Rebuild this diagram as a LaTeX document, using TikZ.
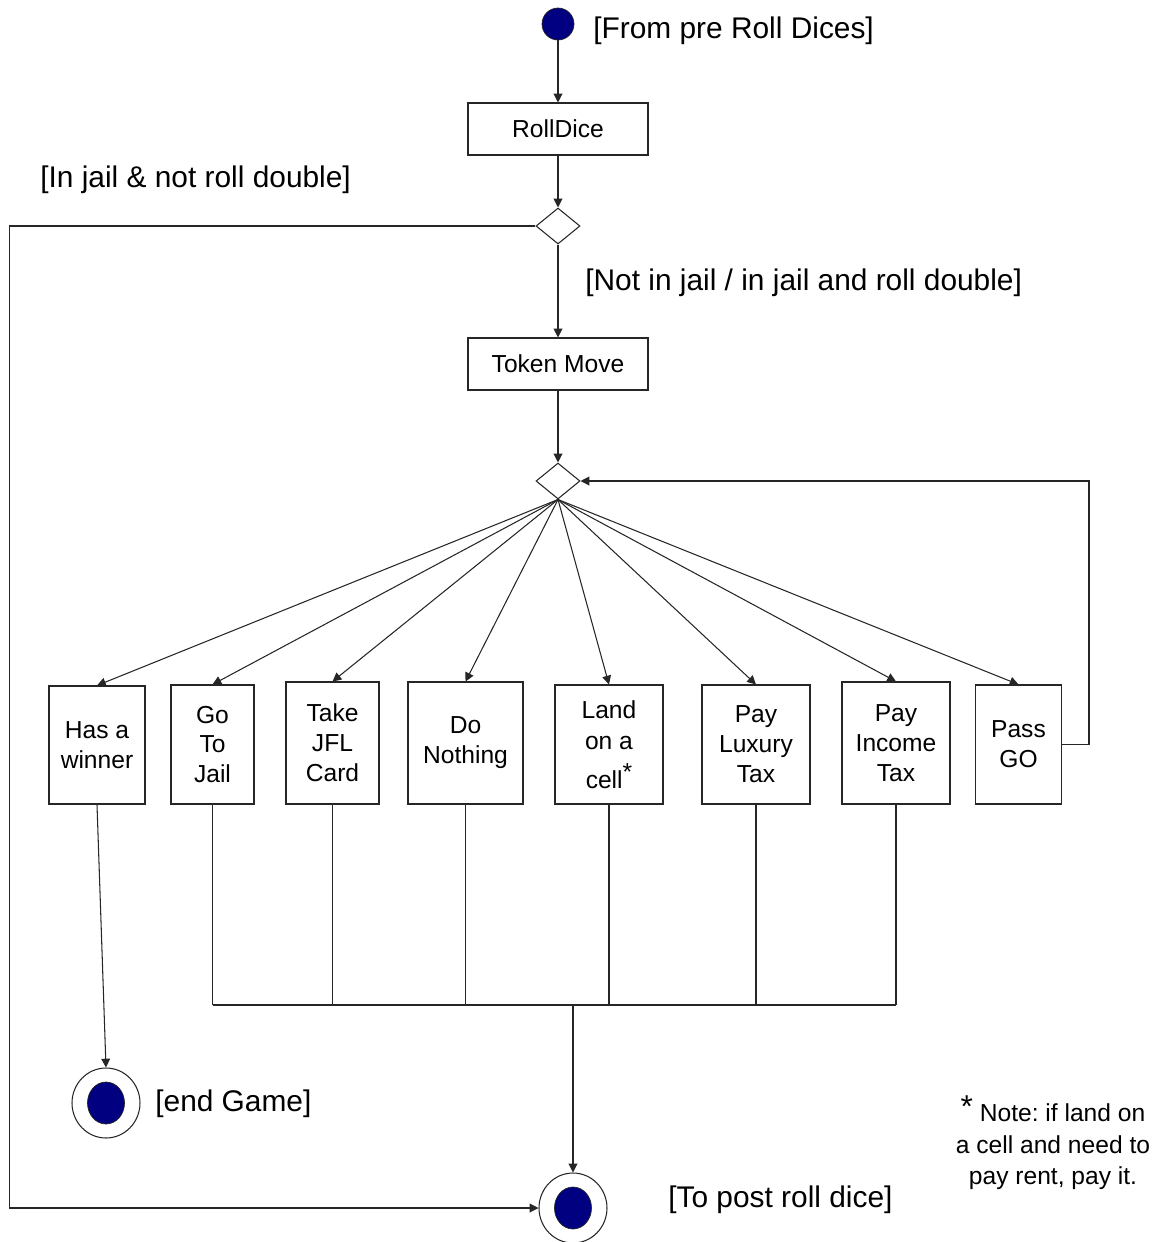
\documentclass[tikz,border=0pt]{standalone}
\usepackage{fontspec}
\setmainfont{Liberation Sans}
\usepackage{xcolor}
\usetikzlibrary{shapes.geometric,arrows.meta}
\definecolor{acnavy}{RGB}{0,0,128}
\frenchspacing
\tikzset{
  acline/.style={line width=0.6pt, draw=black!85},
  acarrow/.style={acline, -{Triangle[length=5pt,width=5pt]}},
  acbox/.style={rectangle, draw=black!85, line width=0.6pt, fill=white, inner sep=0pt, align=center, font=\fontsize{14}{17}\selectfont},
  acdec/.style={diamond, draw=black!85, line width=0.6pt, fill=white, inner sep=0pt, minimum width=0.88cm, minimum height=0.72cm},
  acstart/.style={circle, fill=acnavy, draw=black!85, line width=0.4pt, inner sep=0pt, minimum size=0.64cm},
  acendout/.style={ellipse, draw=black!85, line width=0.6pt, fill=white, inner sep=0pt, minimum width=1.36cm, minimum height=1.4cm},
  acendin/.style={ellipse, fill=acnavy, draw=black!85, line width=0.4pt, inner sep=0pt, minimum width=0.74cm, minimum height=0.84cm},
  aclabel/.style={anchor=west, inner sep=0pt, font=\fontsize{17}{20}\selectfont},
}
\begin{document}
\begin{tikzpicture}[x=0.02cm, y=-0.02cm]
\useasboundingbox (0,0) rectangle (1159,1242);
% top part
\node[acstart] (start) at (558,24) {};
\node[aclabel] at (593,31) {[From pre Roll Dices]};
\node[acbox, minimum width=3.6cm, minimum height=1.04cm] (roll) at (558,129) {RollDice};
\node[acdec] (d1) at (558,226) {};
\node[aclabel] at (40,180) {[In jail \& not roll double]};
\node[aclabel] at (585,283) {[Not in jail / in jail and roll double]};
\node[acbox, minimum width=3.6cm, minimum height=1.04cm] (move) at (558,364) {Token Move};
\node[acdec] (d2) at (558,481) {};
% outcome boxes
\node[acbox, minimum width=1.92cm, minimum height=2.36cm] (win) at (97,745) {Has a\\winner};
\node[acbox, minimum width=1.66cm, minimum height=2.38cm] (jail) at (212.5,744.5) {Go\\To\\Jail};
\node[acbox, minimum width=1.86cm, minimum height=2.44cm] (card) at (332.5,743) {Take\\JFL\\Card};
\node[acbox, minimum width=2.30cm, minimum height=2.44cm] (idle) at (465.5,743) {Do\\Nothing};
\node[acbox, minimum width=2.16cm, minimum height=2.38cm] (land) at (609,744.5) {Land\\[0.6pt]on a\\[5pt]cell\raisebox{0.3em}{*}};
\node[acbox, minimum width=2.16cm, minimum height=2.38cm] (lux) at (756,744.5) {Pay\\Luxury\\Tax};
\node[acbox, minimum width=2.16cm, minimum height=2.44cm] (inc) at (896,743) {Pay\\Income\\Tax};
\node[acbox, minimum width=1.72cm, minimum height=2.38cm] (pass) at (1018.5,744.5) {Pass\\GO};
% final states
\node[acendout] (endg) at (106,1103) {};
\node[acendin] at (endg) {};
\node[aclabel] at (155,1104) {[end Game]};
\node[acendout] (post) at (573,1208) {};
\node[acendin] at (post) {};
\node[aclabel] at (668,1200) {[To post roll dice]};
\node[align=center, inner sep=0pt, font=\fontsize{14}{18}\selectfont] (note) at (1053,1143)
  {\raisebox{0.15em}{\fontsize{18}{18}\selectfont *} Note: if land on\\a cell and need to\\pay rent, pay it.};
\coordinate (bar) at (573,1005);
% connectors
\draw[acarrow] (start) -- (roll);
\draw[acarrow] (roll) -- (d1);
\draw[acarrow] (d1) -- (move);
\draw[acarrow] (move) -- (d2);
\draw[acarrow] (d1.west) -- ++(-526,0) |- (post.west);
\foreach \b in {win,jail,card,idle,land,lux,inc,pass}
  \draw[acarrow] (d2.south) -- (\b.north);
\draw[acarrow] (pass.east) -- ++(27,0) |- (d2.east);
\draw[acarrow] (win.south) -- (endg.north);
\foreach \b in {jail,card,idle,land,lux,inc}
  \draw[acline] (\b.south) -- (\b.south |- bar);
\draw[acline] (jail.south |- bar) -- (inc.south |- bar);
\draw[acarrow] (bar) -- (post.north);
\end{tikzpicture}
\end{document}
